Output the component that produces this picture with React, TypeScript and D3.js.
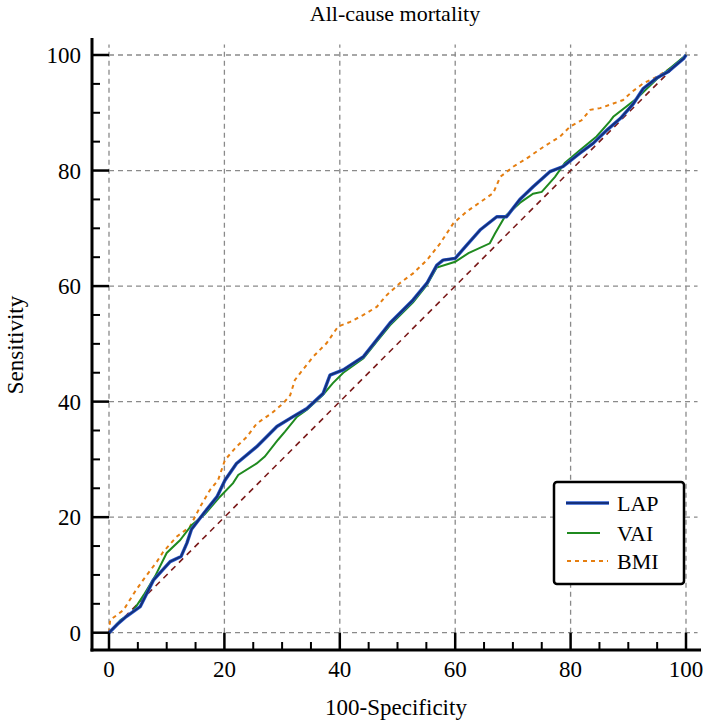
import React from "react";
import * as d3 from "d3";

const title = "All-cause mortality";
const xTitle = "100-Specificity";
const yTitle = "Sensitivity";
const majorTicks = [0, 20, 40, 60, 80, 100];
const minorTicks = [5, 10, 15, 25, 30, 35, 45, 50, 55, 65, 70, 75, 85, 90, 95];
const seriesNames = ["LAP", "VAI", "BMI"];

const lapX = [0, 1.5, 3, 5.4, 7.7, 10.6, 12.5, 13.5, 14.3, 16.6, 18.7, 20.1, 22.1, 25.6, 29.1, 31.9, 34.3, 37.1, 38.3, 40.6, 44.1, 46.4, 48.7, 50.4, 52.7, 55.1, 56.8, 57.9, 60, 62, 64.3, 67.2, 68.9, 71.2, 73.5, 76.4, 78.7, 81.6, 83.9, 86.3, 88.6, 90.9, 92.6, 94.9, 96.9, 99.6, 100];
const lapY = [0, 1.5, 2.8, 4.5, 9.1, 12.3, 13.2, 15.5, 17.9, 20.9, 23.5, 26.4, 29.3, 32.2, 35.7, 37.4, 38.8, 41.4, 44.6, 45.5, 47.8, 50.7, 53.6, 55.3, 57.6, 60.5, 63.6, 64.5, 64.8, 67.1, 69.7, 72, 72, 75.0, 77.2, 79.8, 80.7, 83, 84.7, 87, 89, 91.6, 94.2, 96, 97.1, 99.4, 100];

const vaiX = [0, 2, 4, 6, 8, 10, 12.3, 14.3, 16.6, 19.2, 21.5, 22.4, 25.6, 27, 29.3, 30.5, 32.6, 34.3, 37.1, 38.8, 40.6, 44.1, 46.4, 48.7, 52.7, 55.1, 56.8, 60, 62.3, 66, 66.9, 68.6, 71.2, 73.5, 75, 77.3, 79, 81.6, 84.5, 86.8, 87.4, 91.5, 94.9, 97.8, 100];
const vaiY = [0, 2.2, 3.5, 6.5, 9.8, 13.8, 16, 18.6, 20.5, 23.5, 25.9, 27.3, 29.3, 30.5, 33.4, 34.8, 37.4, 38.6, 41.2, 43.2, 45, 47.5, 50.4, 53.2, 57.2, 60.2, 63.2, 64.2, 65.7, 67.4, 69.1, 72, 74.4, 76, 76.3, 78.9, 81.3, 83.5, 85.9, 88.5, 89.3, 92.5, 95.8, 98.2, 100];

const bmiX = [0, 0.2, 2.5, 4.5, 5.9, 8.3, 9.4, 11.7, 14, 15.8, 17.5, 18.9, 20.1, 22.1, 23.9, 25.6, 28.2, 30.2, 31.4, 32.2, 33.1, 35.4, 37.7, 39.7, 41.8, 44.1, 46.4, 48.1, 50.4, 52.7, 55.1, 57.4, 59.7, 62, 64.3, 66.6, 67.8, 70.1, 72.4, 75.3, 78.2, 79.9, 81.9, 83.4, 85.1, 87.4, 89.1, 90.6, 92.6, 94.9, 97.8, 100];
const bmiY = [0, 2.2, 3.9, 7.1, 9.1, 12.3, 14, 16.6, 18.3, 21.8, 24.7, 26.4, 29.9, 32.2, 33.9, 36.2, 38, 39.7, 41.1, 43.7, 44.9, 47.8, 50.1, 53, 53.8, 55, 56.4, 58.4, 60.5, 62.2, 64.5, 67.4, 70.9, 72.9, 74.5, 76.1, 78.9, 80.7, 82.1, 84.1, 85.9, 87.6, 88.7, 90.5, 90.8, 91.6, 92.2, 93.6, 95.1, 96.2, 98, 100];

const refX = [0, 100];
const refY = [0, 100];

const W = 709;
const H = 724;
const FONT = "Liberation Serif, DejaVu Serif, serif";

export default function App() {
  const x = d3.scaleLinear().domain([0, 100]).range([109, 686]);
  const y = d3.scaleLinear().domain([0, 100]).range([632.7, 55]);
  const axisX = 92;
  const axisY = 650;
  const toPts = (xs: number[], ys: number[]) => xs.map((v, i) => [v, ys[i]] as [number, number]);
  const line = d3
    .line<[number, number]>()
    .x((d) => x(d[0]))
    .y((d) => y(d[1]));

  const lap = line(toPts(lapX, lapY)) || "";
  const vai = line(toPts(vaiX, vaiY)) || "";
  const bmi = line(toPts(bmiX, bmiY)) || "";
  const ref = line(toPts(refX, refY)) || "";

  const gridColor = "#8a8a8a";
  const lapColor = "#14307a";
  const vaiColor = "#1f8a1f";
  const bmiColor = "#e57e10";
  const refColor = "#7a1a1a";

  const legX = 554;
  const legY = 482;
  const legRows = [503, 533, 561];
  const ts = { fontFamily: FONT };

  return (
    <svg
      width={W}
      height={H}
      style={{ position: "absolute", left: 0, top: 0, background: "#fff" }}
    >
      <rect x={0} y={0} width={W} height={H} fill="#fff" />
      {majorTicks.map((t) => (
        <line key={"gv" + t} x1={x(t)} x2={x(t)} y1={y(0)} y2={y(101.8)} stroke={gridColor} strokeWidth={1.3} strokeDasharray="5,4" />
      ))}
      {majorTicks.map((t) => (
        <line key={"gh" + t} x1={x(0)} x2={x(102)} y1={y(t)} y2={y(t)} stroke={gridColor} strokeWidth={1.3} strokeDasharray="5,4" />
      ))}
      <path d={ref} fill="none" stroke={refColor} strokeWidth={1.6} strokeDasharray="6,5" />
      <path d={bmi} fill="none" stroke={bmiColor} strokeWidth={2} strokeDasharray="4,4" />
      <path d={vai} fill="none" stroke={vaiColor} strokeWidth={2} />
      <path d={lap} fill="none" stroke="#2a5ad0" strokeWidth={3.4} strokeLinejoin="round" />
      <path d={lap} fill="none" stroke={lapColor} strokeWidth={2} strokeLinejoin="round" />

      <line x1={axisX} x2={axisX} y1={38} y2={axisY + 1.5} stroke="#000" strokeWidth={3} />
      <line x1={axisX - 1.5} x2={701} y1={axisY} y2={axisY} stroke="#000" strokeWidth={3} />
      {majorTicks.map((t) => (
        <line key={"yt" + t} x1={axisX} x2={x(0)} y1={y(t)} y2={y(t)} stroke="#000" strokeWidth={2.5} />
      ))}
      {minorTicks.map((t) => (
        <line key={"ym" + t} x1={axisX} x2={axisX + 8} y1={y(t)} y2={y(t)} stroke="#000" strokeWidth={2} />
      ))}
      {majorTicks.map((t) => (
        <line key={"xt" + t} x1={x(t)} x2={x(t)} y1={axisY} y2={y(0)} stroke="#000" strokeWidth={2.5} />
      ))}
      {minorTicks.map((t) => (
        <line key={"xm" + t} x1={x(t)} x2={x(t)} y1={axisY} y2={axisY - 8} stroke="#000" strokeWidth={2} />
      ))}
      {majorTicks.map((t) => (
        <text key={"yl" + t} x={81} y={y(t)} dy="0.35em" textAnchor="end" fontSize={23} fill="#000" style={ts}>
          {t}
        </text>
      ))}
      {majorTicks.map((t) => (
        <text key={"xl" + t} x={x(t)} y={669} dy="0.35em" textAnchor="middle" fontSize={23} fill="#000" style={ts}>
          {t}
        </text>
      ))}

      <text x={395} y={21} textAnchor="middle" fontSize={22} fill="#000" style={ts}>
        {title}
      </text>
      <text x={396} y={707} dy="0.35em" textAnchor="middle" fontSize={23} fill="#000" style={ts}>
        {xTitle}
      </text>
      <text transform={`translate(15,345) rotate(-90)`} textAnchor="middle" dy="0.35em" fontSize={23} fill="#000" style={ts}>
        {yTitle}
      </text>

      <rect x={legX} y={legY} width={130} height={102} rx={3} fill="#fff" stroke="#000" strokeWidth={2.5} />
      <line x1={566} x2={609} y1={legRows[0]} y2={legRows[0]} stroke="#2a5ad0" strokeWidth={3.4} />
      <line x1={566} x2={609} y1={legRows[0]} y2={legRows[0]} stroke={lapColor} strokeWidth={2} />
      <line x1={567} x2={600} y1={legRows[1]} y2={legRows[1]} stroke={vaiColor} strokeWidth={1.8} />
      <line x1={567} x2={608} y1={legRows[2]} y2={legRows[2]} stroke={bmiColor} strokeWidth={2} strokeDasharray="4,4" />
      {seriesNames.map((n, i) => (
        <text key={n} x={617} y={legRows[i]} dy="0.35em" fontSize={22} fill="#000" style={ts}>
          {n}
        </text>
      ))}
    </svg>
  );
}
